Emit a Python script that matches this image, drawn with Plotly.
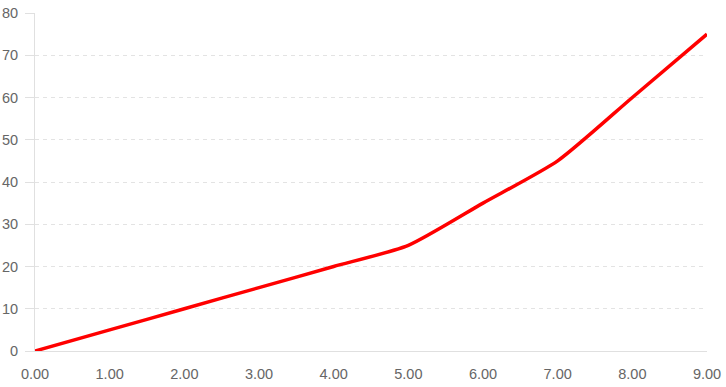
import plotly.graph_objects as go

x_values = [0, 1, 2, 3, 4, 5, 6, 7, 8, 9]
y_values = [0, 5, 10, 15, 20, 25, 35, 45, 60, 75]
x_ticks = [0, 1, 2, 3, 4, 5, 6, 7, 8, 9]
x_tick_labels = ["0.00", "1.00", "2.00", "3.00", "4.00", "5.00", "6.00", "7.00", "8.00", "9.00"]
y_ticks = [0, 10, 20, 30, 40, 50, 60, 70, 80]

fig = go.Figure()
fig.add_trace(go.Scatter(
    x=x_values, y=y_values, mode="lines",
    line=dict(color="#ff0000", width=3.5, shape="spline", smoothing=0.6),
    hoverinfo="x+y", cliponaxis=False,
))

fig.update_layout(
    width=726, height=387,
    margin=dict(l=35, r=19, t=13, b=36),
    plot_bgcolor="white", paper_bgcolor="white",
    showlegend=False,
    font=dict(family="Liberation Sans, Arial, sans-serif", size=14.5, color="#666666"),
    xaxis=dict(
        range=[0, 9], tickvals=x_ticks, ticktext=x_tick_labels,
        showgrid=False, zeroline=False, automargin=False,
        showline=True, linecolor="#e0e0e0", linewidth=1,
        ticks="", ticklabelstandoff=10,
    ),
    yaxis=dict(
        range=[0, 80], tickvals=y_ticks, automargin=False,
        showgrid=True, gridcolor="#e3e3e3", griddash="4px,4px", gridwidth=1,
        zeroline=False,
        showline=True, linecolor="#e0e0e0", linewidth=1,
        ticks="outside", ticklen=9, tickcolor="#e0e0e0",
        ticklabelstandoff=4,
    ),
)

fig.write_html(
    "out.html",
    config={"displayModeBar": False},
    post_script="document.body.style.margin='0';document.body.style.overflow='hidden';",
)
